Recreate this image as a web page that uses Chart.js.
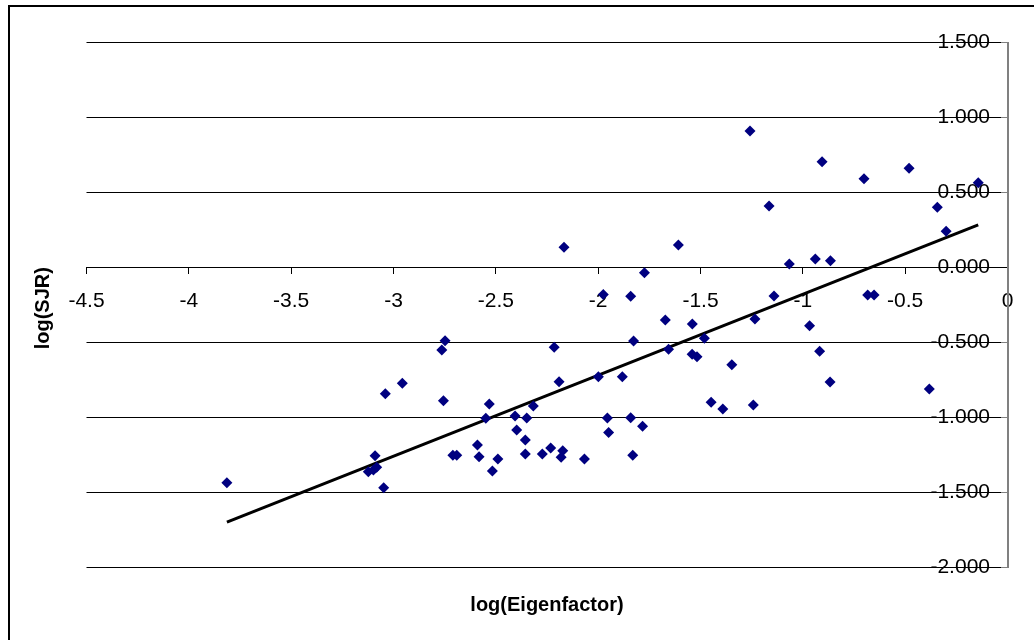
<!DOCTYPE html>
<html>
<head>
<meta charset="utf-8">
<script src="https://cdn.jsdelivr.net/npm/chart.js@4.4.0/dist/chart.umd.min.js"></script>
<style>
body{margin:0;background:#fff;}
canvas{display:block;}
</style>
</head>
<body>
<canvas id="myCanvas" width="1034" height="640"></canvas>
<script>
// log(Eigenfactor) per journal
var eigenfactor = [-3.814, -3.123, -3.098, -3.082, -3.090, -3.048, -3.040, -2.957, -2.764, -2.748,
    -2.756, -2.710, -2.691, -2.590, -2.582, -2.549, -2.532, -2.517, -2.490, -2.406,
    -2.398, -2.356, -2.356, -2.349, -2.317, -2.273, -2.232, -2.215, -2.191, -2.181,
    -2.173, -2.167, -2.067, -1.999, -1.975, -1.955, -1.949, -1.882, -1.841, -1.841,
    -1.831, -1.827, -1.783, -1.774, -1.672, -1.656, -1.608, -1.540, -1.541, -1.517,
    -1.481, -1.448, -1.391, -1.347, -1.258, -1.242, -1.234, -1.165, -1.141, -1.066,
    -0.967, -0.939, -0.918, -0.906, -0.865, -0.867, -0.701, -0.683, -0.652, -0.481,
    -0.382, -0.343, -0.300, -0.143];
// log(SJR) per journal
var sjr = [-1.433, -1.360, -1.349, -1.331, -1.253, -1.467, -0.840, -0.771, -0.549, -0.487,
    -0.887, -1.251, -1.251, -1.182, -1.260, -1.004, -0.909, -1.355, -1.275, -0.989,
    -1.082, -1.149, -1.242, -1.002, -0.922, -1.242, -1.202, -0.531, -0.760, -1.264,
    -1.220, 0.136, -1.275, -0.727, -0.179, -1.002, -1.099, -0.727, -0.191, -1.001,
    -1.251, -0.489, -1.057, -0.033, -0.349, -0.544, 0.151, -0.375, -0.577, -0.593,
    -0.471, -0.897, -0.942, -0.647, 0.911, -0.915, -0.342, 0.411, -0.189, 0.025,
    -0.387, 0.058, -0.557, 0.707, 0.047, -0.762, 0.593, -0.182, -0.182, 0.663,
    -0.809, 0.403, 0.243, 0.567];

var xRange = [-4.5, 0];
var yRange = [-2, 1.5];
var tickStep = 0.5;
var xTitle = 'log(Eigenfactor)';
var yTitle = 'log(SJR)';

var points = [];
for (var i = 0; i < eigenfactor.length; i++) {
    points.push({x: eigenfactor[i], y: sjr[i]});
}

// linear trendline (least squares), drawn over the range of the data
function trendLine(xs, ys){
    var n = xs.length, sx = 0, sy = 0, sxx = 0, sxy = 0;
    for (var i = 0; i < n; i++) {
        sx += xs[i]; sy += ys[i]; sxx += xs[i]*xs[i]; sxy += xs[i]*ys[i];
    }
    var b = (n*sxy - sx*sy) / (n*sxx - sx*sx);
    var a = (sy - b*sx) / n;
    var x0 = Math.min.apply(null, xs), x1 = Math.max.apply(null, xs);
    return [{x: x0, y: a + b*x0}, {x: x1, y: a + b*x1}];
}

var FONT = "'Liberation Sans', Arial, sans-serif";

var frame = {
    id: 'frame',
    beforeDraw: function(chart){
        var c = chart.ctx;
        c.save();
        c.fillStyle = '#fff';
        c.fillRect(0, 0, chart.width, chart.height);
        c.strokeStyle = '#000';
        c.lineWidth = 2;
        c.strokeRect(9, 6, 1100, 700);
        c.restore();
    },
    afterDraw: function(chart){
        var c = chart.ctx, area = chart.chartArea;
        c.save();
        c.fillStyle = '#000';
        c.font = 'bold 20px ' + FONT;
        c.textAlign = 'center';
        c.textBaseline = 'middle';
        c.fillText(xTitle, (area.left + area.right) / 2, 605);
        c.translate(43, (area.top + area.bottom) / 2 + 3);
        c.rotate(-Math.PI / 2);
        c.fillText(yTitle, 0, 0);
        c.restore();
    }
};

var ctx = document.getElementById('myCanvas').getContext('2d');
var myChart = new Chart(ctx, {
    type: 'scatter',
    data: {
        datasets: [{
            data: points,
            pointStyle: 'rectRot',
            pointRadius: 5.5,
            pointBorderWidth: 0,
            backgroundColor: '#000080',
            borderColor: '#000080'
        }, {
            type: 'line',
            data: trendLine(eigenfactor, sjr),
            borderColor: '#000',
            borderWidth: 3,
            pointRadius: 0,
            fill: false
        }]
    },
    options: {
        responsive: false,
        animation: false,
        layout: {padding: {left: 86.5, right: 26.5, top: 42.7, bottom: 72.3}},
        plugins: {legend: {display: false}, tooltip: {enabled: false}},
        scales: {
            x: {
                type: 'linear',
                position: {y: 0},
                min: xRange[0], max: xRange[1],
                ticks: {
                    stepSize: tickStep, autoSkip: false, maxRotation: 0,
                    color: '#000', padding: 15,
                    font: {family: FONT, size: 21},
                    callback: function(v){ return String(v); }
                },
                grid: {drawOnChartArea: false, tickLength: 6, tickColor: '#000'},
                border: {color: '#000', width: 1}
            },
            y: {
                type: 'linear',
                position: {x: 0},
                min: yRange[0], max: yRange[1],
                ticks: {
                    stepSize: tickStep, autoSkip: false,
                    color: '#000', padding: 12,
                    font: {family: FONT, size: 21},
                    // labels sit left of the axis; trailing gap keeps them clear of the tick marks
                    callback: function(v){ return v.toFixed(3) + '   '; }
                },
                grid: {color: '#000', lineWidth: 1, tickLength: 6, tickColor: '#808080'},
                border: {color: '#808080', width: 2}
            }
        }
    },
    plugins: [frame]
});
</script>
</body>
</html>
